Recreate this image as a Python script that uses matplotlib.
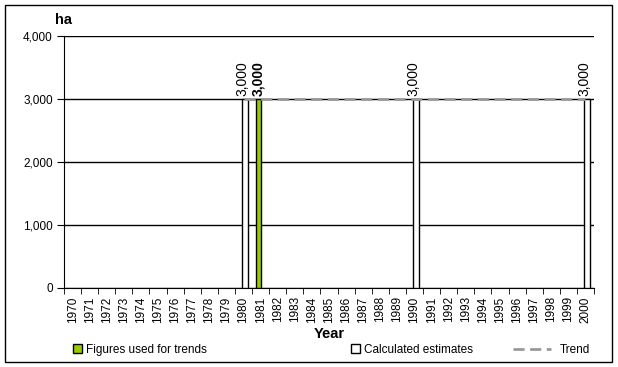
import matplotlib
matplotlib.use('Agg')
import matplotlib.pyplot as plt
from matplotlib.patches import Rectangle
from matplotlib.lines import Line2D
import numpy as np

# data
years = list(range(1970, 2001))
used_years = [1981]
used_values = [3000]
calc_years = [1980, 1990, 2000]
calc_values = [3000, 3000, 3000]
trend_years = list(range(1980, 2001))
trend_values = [3000] * len(trend_years)
y_ticks = [0, 1000, 2000, 3000, 4000]

plt.rcParams['font.family'] = ['Liberation Sans', 'DejaVu Sans']
plt.rcParams['font.size'] = 8

fig = plt.figure(figsize=(6.18, 3.67), dpi=100)
ax = fig.add_axes([64 / 618, 1 - 288 / 367, 530 / 618, 252 / 367])

# outer frame around the whole chart
fig.patches.append(Rectangle((5 / 618, 5 / 367), 607 / 618, 357 / 367,
                             transform=fig.transFigure, fill=False,
                             edgecolor='black', linewidth=1))

idx = {y: i for i, y in enumerate(years)}
bw = 0.33

ax.bar([idx[y] - 0.12 for y in used_years], used_values, width=bw,
       color='#99cc00', edgecolor='black', linewidth=1, zorder=3)
ax.bar([idx[y] + 0.1 for y in calc_years], calc_values, width=bw,
       color='white', edgecolor='black', linewidth=1, zorder=3)
ax.plot([idx[y] for y in trend_years], trend_values, color='#999999',
        linestyle=(0, (4, 2)), linewidth=2, zorder=4)

for y, v in zip(used_years, used_values):
    ax.annotate(f'{v:,}', (idx[y] - 0.12, v), xytext=(0, 2),
                textcoords='offset points', rotation=90, ha='center',
                va='bottom', fontsize=10, fontweight='bold')
for y, v in zip(calc_years, calc_values):
    ax.annotate(f'{v:,}', (idx[y] - 0.05, v), xytext=(0, 2),
                textcoords='offset points', rotation=90, ha='center',
                va='bottom', fontsize=10)

ax.set_xlim(-0.5, len(years) - 0.5)
ax.set_ylim(0, 4000)
ax.set_yticks(y_ticks)
ax.set_yticklabels([f'{t:,}' for t in y_ticks])
ax.yaxis.grid(True, color='black', linewidth=1)
ax.set_axisbelow(True)

ax.set_xticks(range(len(years)))
ax.set_xticklabels([str(y) for y in years], rotation=90, fontsize=8.5)
ax.set_xticks(np.arange(-0.5, len(years)), minor=True)
ax.tick_params(axis='x', which='major', length=0, pad=6)
ax.tick_params(axis='x', which='minor', length=4, direction='out')
ax.tick_params(axis='y', length=5, direction='out', pad=3, labelsize=8.5)

for s in ['top', 'right']:
    ax.spines[s].set_visible(False)

ax.set_xlabel('Year', fontsize=10.5, fontweight='bold', labelpad=3)
fig.text(55 / 618, 1 - 20 / 367, 'ha', fontsize=10.5, fontweight='bold',
         va='center', ha='left')

# legend
h_used = Rectangle((0, 0), 1, 1, facecolor='#99cc00', edgecolor='black')
h_calc = Rectangle((0, 0), 1, 1, facecolor='white', edgecolor='black')
h_trend = Line2D([], [], color='#999999', linestyle=(0, (4, 2)), linewidth=2)
legend_kw = dict(frameon=False, fontsize=8.5, handlelength=0.8,
                 handleheight=0.8, handletextpad=0.3, borderaxespad=0)
fig.legend([h_used], ['Figures used for trends'], loc='center left',
           bbox_to_anchor=(68 / 618, 1 - 350 / 367), **legend_kw)
fig.legend([h_calc], ['Calculated estimates'], loc='center left',
           bbox_to_anchor=(346 / 618, 1 - 350 / 367), **legend_kw)
legend_kw['handlelength'] = 3.2
legend_kw['handletextpad'] = 0.8
fig.legend([h_trend], ['Trend'], loc='center left',
           bbox_to_anchor=(508 / 618, 1 - 350 / 367), **legend_kw)

fig.savefig('out.png', dpi=100)
plt.close(fig)
